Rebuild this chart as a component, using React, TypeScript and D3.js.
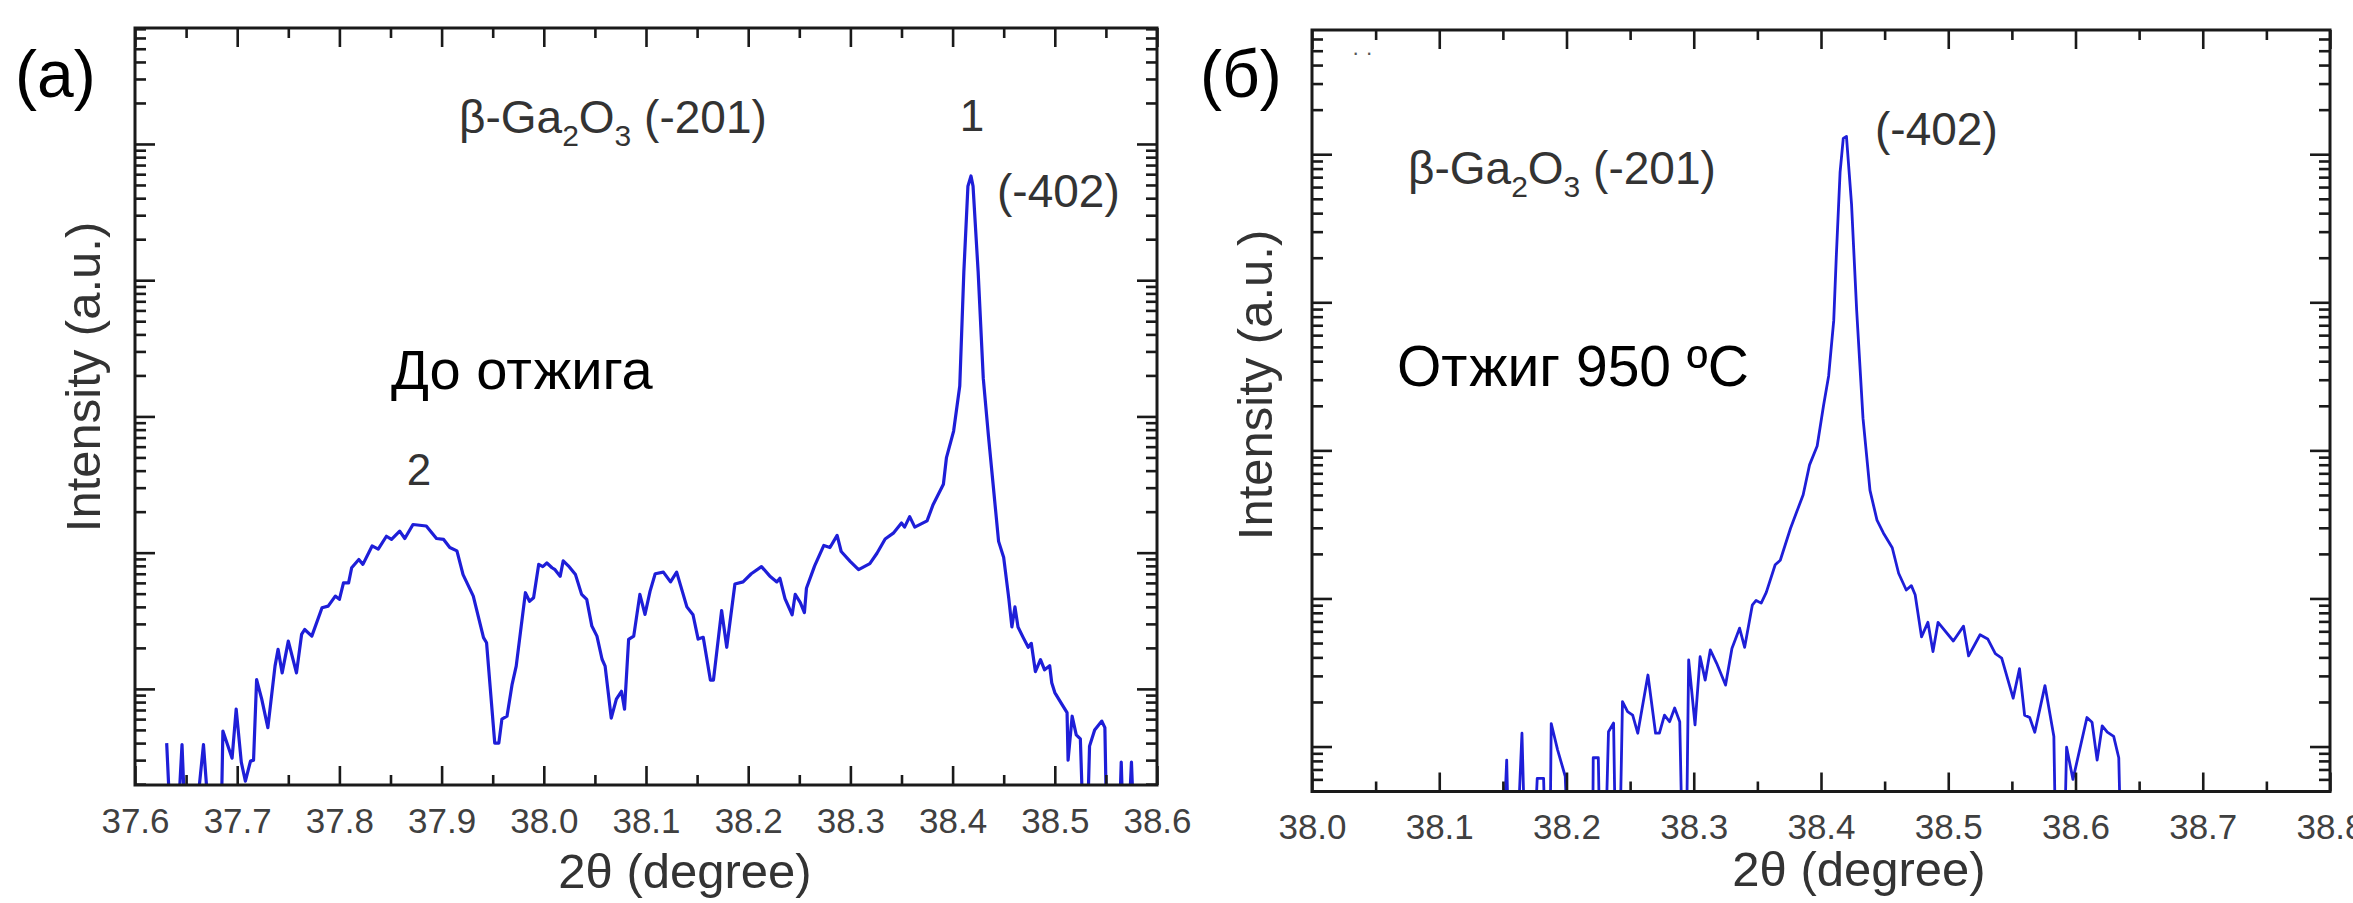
import React, { useEffect, useRef } from "react";
import * as d3 from "d3";

// ---- panel (a): before annealing ----
const beforeDeg = [
  37.631, 37.638, 37.646, 37.652, 37.667, 37.678, 37.683, 37.686, 37.695, 37.699,
  37.704, 37.708, 37.713, 37.716, 37.719, 37.724, 37.730, 37.737, 37.740, 37.744,
  37.750, 37.758, 37.763, 37.766, 37.773, 37.783, 37.789, 37.796, 37.800, 37.804,
  37.809, 37.812, 37.819, 37.823, 37.832, 37.838, 37.846, 37.851, 37.859, 37.864,
  37.872, 37.885, 37.895, 37.902, 37.908, 37.915, 37.921, 37.931, 37.941, 37.944,
  37.952, 37.956, 37.959, 37.964, 37.969, 37.973, 37.982, 37.986, 37.990, 37.995,
  37.999, 38.003, 38.008, 38.011, 38.016, 38.019, 38.024, 38.031, 38.037, 38.042,
  38.047, 38.052, 38.057, 38.060, 38.066, 38.071, 38.076, 38.079, 38.083, 38.088,
  38.094, 38.099, 38.104, 38.109, 38.117, 38.124, 38.130, 38.140, 38.146, 38.151,
  38.156, 38.163, 38.166, 38.174, 38.179, 38.187, 38.195, 38.203, 38.213, 38.221,
  38.228, 38.231, 38.236, 38.243, 38.246, 38.251, 38.255, 38.257, 38.265, 38.274,
  38.280, 38.287, 38.291, 38.300, 38.308, 38.319, 38.326, 38.334, 38.342, 38.350,
  38.353, 38.358, 38.363, 38.375, 38.381, 38.391, 38.394, 38.401, 38.407, 38.411,
  38.415, 38.418, 38.420, 38.425, 38.430, 38.435, 38.440, 38.445, 38.450, 38.455,
  38.458, 38.461, 38.464, 38.469, 38.474, 38.477, 38.481, 38.486, 38.490, 38.495,
  38.497, 38.500, 38.507, 38.512, 38.513, 38.517, 38.521, 38.525, 38.530, 38.534,
  38.539, 38.546, 38.549, 38.552, 38.561, 38.565, 38.569, 38.575, 38.580, 38.600,
];
const beforeCounts = [
  4.0, 0.3, 3.9, 0.3, 3.9, 0.3, 0.3, 4.9, 3.1, 7.1,
  2.9, 2.1, 2.95, 3.0, 11.7, 8.4, 5.2, 14.7, 19.5, 13.1,
  22.4, 13.1, 25.1, 27.3, 24.4, 39.4, 40.5, 48, 45.4, 60,
  60, 77.5, 89, 82, 112, 106, 132, 125, 144, 127,
  161, 157, 127, 125, 109, 103, 69, 48, 23.8, 21.8,
  4.0, 4.0, 6.0, 6.3, 10.8, 14.7, 50.8, 44, 46.7, 82,
  79, 84, 77.5, 75, 67, 87, 80, 69, 49.4, 45.4,
  28.9, 24.4, 16.5, 14.7, 6.1, 8.4, 9.6, 7.1, 23.1, 24.4,
  49.4, 35.2, 52.2, 70, 72, 61, 72, 40, 35, 23.2,
  23.9, 11.6, 11.6, 37.6, 20.2, 58.8, 61, 70, 79, 67.5,
  61, 65, 46, 35, 49.4, 43, 36.3, 54.8, 80, 113,
  109, 134, 102, 86, 75, 83, 99, 126, 139, 165,
  154, 184, 154, 171, 226, 318, 499, 781, 1670, 11500,
  49000, 58200, 49000, 11500, 1910, 729, 297, 121, 92, 46,
  28.5, 40, 28.5, 23.9, 20.2, 21.6, 13.4, 16.4, 13.8, 14.8,
  11.1, 9.4, 7.7, 6.7, 3.0, 6.3, 4.6, 4.3, 0.3, 3.8,
  5.0, 5.8, 5.2, 0.3, 0.3, 2.9, 0.3, 2.9, 0.3, 0.3,
];

// ---- panel (б): annealed at 950 C ----
const afterDeg = [
  38.146, 38.153, 38.157, 38.165, 38.170, 38.177, 38.182, 38.186, 38.188, 38.193,
  38.199, 38.205, 38.220, 38.221, 38.225, 38.228, 38.233, 38.237, 38.240, 38.244,
  38.248, 38.252, 38.256, 38.264, 38.270, 38.273, 38.277, 38.281, 38.285, 38.289,
  38.293, 38.296, 38.301, 38.305, 38.309, 38.313, 38.318, 38.325, 38.330, 38.336,
  38.340, 38.346, 38.349, 38.353, 38.357, 38.364, 38.368, 38.376, 38.381, 38.386,
  38.391, 38.397, 38.402, 38.406, 38.410, 38.412, 38.415, 38.4175, 38.420, 38.424,
  38.428, 38.433, 38.4385, 38.444, 38.449, 38.456, 38.461, 38.467, 38.471, 38.474,
  38.479, 38.484, 38.488, 38.492, 38.504, 38.512, 38.516, 38.525, 38.531, 38.537,
  38.542, 38.551, 38.556, 38.560, 38.564, 38.568, 38.576, 38.583, 38.586, 38.589,
  38.593, 38.598, 38.609, 38.613, 38.617, 38.621, 38.625, 38.630, 38.634, 38.638,
];
const afterCounts = [
  0.3, 8.1, 0.3, 12.3, 0.3, 6.1, 6.1, 0.3, 14.3, 9.5,
  6.3, 0.3, 0.3, 8.4, 8.4, 0.3, 12.6, 14.4, 0.3, 20.1,
  17.2, 16.3, 12.3, 30.4, 12.3, 12.3, 16.3, 14.7, 18.2, 14.7,
  0.3, 38.4, 14, 40.4, 28.1, 44.9, 36.5, 26, 46, 63,
  46.8, 90, 97, 93, 110, 169, 181, 297, 386, 502,
  798, 1070, 2010, 3180, 7520, 20200, 75700, 128000, 132000, 46000,
  8900, 1650, 537, 338, 277, 220, 148, 114, 122, 106,
  55, 69, 43.8, 69, 51.6, 65, 40.9, 56.9, 53.3, 42.4,
  39.6, 21.2, 33.6, 16.3, 15.7, 12.5, 25.8, 11.7, 0.3, 0.3,
  9.9, 6.0, 15.7, 14.6, 8.1, 13.8, 12.5, 11.7, 8.4, 0.3,
];

const ticksA = [37.6, 37.7, 37.8, 37.9, 38.0, 38.1, 38.2, 38.3, 38.4, 38.5, 38.6];
const ticksB = [38.0, 38.1, 38.2, 38.3, 38.4, 38.5, 38.6, 38.7, 38.8];

const FONT = "'Liberation Sans', Arial, Helvetica, sans-serif";
const LINE = "#1e1ed8";
const INK = "#1a1a1a";

function logTicks(domain: number[]) {
  const major: number[] = [];
  const minor: number[] = [];
  for (let e = Math.floor(Math.log10(domain[0])); e <= Math.ceil(Math.log10(domain[1])); e++) {
    for (let k = 1; k <= 9; k++) {
      const v = k * Math.pow(10, e);
      if (v >= domain[0] && v <= domain[1]) (k === 1 ? major : minor).push(v);
    }
  }
  return { major, minor };
}

function drawPanel(svg: any, cfg: any) {
  const x = d3.scaleLinear().domain(cfg.xDomain).range([cfg.left, cfg.right]);
  const y = d3.scaleLog().domain(cfg.yDomain).range([cfg.bottom, cfg.top]);
  const g = svg.append("g");

  svg.append("defs").append("clipPath").attr("id", cfg.id)
    .append("rect")
    .attr("x", cfg.left).attr("y", cfg.top)
    .attr("width", cfg.right - cfg.left).attr("height", cfg.bottom - cfg.top);

  const pts = d3.zip(cfg.xs, cfg.ys);
  g.append("path")
    .datum(pts)
    .attr("clip-path", `url(#${cfg.id})`)
    .attr("fill", "none")
    .attr("stroke", LINE)
    .attr("stroke-width", cfg.lineWidth)
    .attr("stroke-linejoin", "round")
    .attr("d", d3.line().x((d: any) => x(d[0])).y((d: any) => y(d[1])));

  const minorX = cfg.ticks.slice(0, -1).map((t: number) => t + 0.05);
  const yt = logTicks(cfg.yDomain);

  const styleAxis = (a: any) => {
    a.select(".domain").remove();
    a.selectAll("line").attr("stroke", INK).attr("stroke-width", 2.6);
  };

  // bottom
  g.append("g").attr("transform", `translate(0,${cfg.bottom})`)
    .call(d3.axisBottom(x).tickValues(cfg.ticks).tickSizeInner(-19).tickSizeOuter(0)
      .tickPadding(cfg.labelPad).tickFormat(d3.format(".1f")))
    .call(styleAxis)
    .call((a: any) => a.selectAll("text")
      .attr("font-family", FONT).attr("font-size", 35).attr("fill", "#404040"));
  g.append("g").attr("transform", `translate(0,${cfg.bottom})`)
    .call(d3.axisBottom(x).tickValues(minorX).tickSizeInner(-10).tickSizeOuter(0).tickFormat(() => ""))
    .call(styleAxis);
  // top
  g.append("g").attr("transform", `translate(0,${cfg.top})`)
    .call(d3.axisTop(x).tickValues(cfg.ticks).tickSizeInner(-19).tickSizeOuter(0).tickFormat(() => ""))
    .call(styleAxis);
  g.append("g").attr("transform", `translate(0,${cfg.top})`)
    .call(d3.axisTop(x).tickValues(minorX).tickSizeInner(-10).tickSizeOuter(0).tickFormat(() => ""))
    .call(styleAxis);
  // left / right
  [[d3.axisLeft, cfg.left], [d3.axisRight, cfg.right]].forEach(([fn, px]: any) => {
    g.append("g").attr("transform", `translate(${px},0)`)
      .call(fn(y).tickValues(yt.major).tickSizeInner(-20).tickSizeOuter(0).tickFormat(() => ""))
      .call(styleAxis);
    g.append("g").attr("transform", `translate(${px},0)`)
      .call(fn(y).tickValues(yt.minor).tickSizeInner(-11).tickSizeOuter(0).tickFormat(() => ""))
      .call(styleAxis);
  });

  g.append("rect")
    .attr("x", cfg.left).attr("y", cfg.top)
    .attr("width", cfg.right - cfg.left).attr("height", cfg.bottom - cfg.top)
    .attr("fill", "none").attr("stroke", INK).attr("stroke-width", 3);

  // axis titles
  g.append("text")
    .attr("x", cfg.xTitleX).attr("y", cfg.xTitleY)
    .attr("text-anchor", "middle").attr("font-family", FONT).attr("font-size", 49).attr("fill", "#333")
    .text("2θ (degree)");
  g.append("text")
    .attr("transform", `translate(${cfg.yTitleX},${cfg.yTitleY}) rotate(-90)`)
    .attr("text-anchor", "middle").attr("font-family", FONT).attr("font-size", 49).attr("fill", "#333")
    .text("Intensity (a.u.)");

  // panel letter
  g.append("text").attr("x", cfg.letterX).attr("y", 97)
    .attr("font-family", FONT).attr("font-size", 66).attr("fill", "#000")
    .text(cfg.letter);

  // phase label with subscripts
  const t = g.append("text").attr("x", cfg.phaseX).attr("y", cfg.phaseY)
    .attr("font-family", FONT).attr("font-size", 46).attr("fill", "#333");
  t.append("tspan").text("β-Ga");
  t.append("tspan").attr("font-size", 30).attr("dy", 13).text("2");
  t.append("tspan").attr("dy", -13).text("O");
  t.append("tspan").attr("font-size", 30).attr("dy", 13).text("3");
  t.append("tspan").attr("dy", -13).text(" (-201)");

  // other annotations
  cfg.notes.forEach((n: any) => {
    g.append("text").attr("x", n.x).attr("y", n.y)
      .attr("text-anchor", n.anchor || "start")
      .attr("font-family", FONT).attr("font-size", n.size).attr("fill", n.color)
      .text(n.text);
  });
}

export default function App() {
  const ref = useRef<SVGSVGElement>(null);

  useEffect(() => {
    const svg = d3.select(ref.current);
    svg.selectAll("*").remove();

    drawPanel(svg, {
      id: "clipA",
      xs: beforeDeg, ys: beforeCounts,
      xDomain: [37.6, 38.6], yDomain: [1.97, 7.1e5],
      left: 135, right: 1157, top: 28, bottom: 785,
      ticks: ticksA, labelPad: 23, lineWidth: 3.2,
      xTitleX: 685, xTitleY: 888, yTitleX: 100, yTitleY: 377,
      letter: "(a)", letterX: 15,
      phaseX: 459, phaseY: 133,
      notes: [
        { text: "1", x: 972, y: 131, size: 44, color: "#333", anchor: "middle" },
        { text: "(-402)", x: 997, y: 207, size: 46, color: "#333" },
        { text: "До отжига", x: 391, y: 389, size: 56, color: "#000" },
        { text: "2", x: 419, y: 485, size: 44, color: "#333", anchor: "middle" },
      ],
    });

    drawPanel(svg, {
      id: "clipB",
      xs: afterDeg, ys: afterCounts,
      xDomain: [38.0, 38.8], yDomain: [4.97, 6.9e5],
      left: 1312, right: 2330, top: 30, bottom: 791.5,
      ticks: ticksB, labelPad: 23, lineWidth: 2.8,
      xTitleX: 1859, xTitleY: 886, yTitleX: 1272, yTitleY: 385,
      letter: "(б)", letterX: 1200,
      phaseX: 1408, phaseY: 184,
      notes: [
        { text: "(-402)", x: 1875, y: 145, size: 46, color: "#333" },
        { text: "Отжиг 950 ºC", x: 1397, y: 386, size: 57, color: "#000" },
        { text: "·   ·", x: 1352, y: 60, size: 22, color: "#555" },
      ],
    });
  }, []);

  return (
    <svg
      ref={ref}
      width={2353}
      height={903}
      style={{ position: "absolute", left: 0, top: 0, background: "#fff" }}
    />
  );
}
